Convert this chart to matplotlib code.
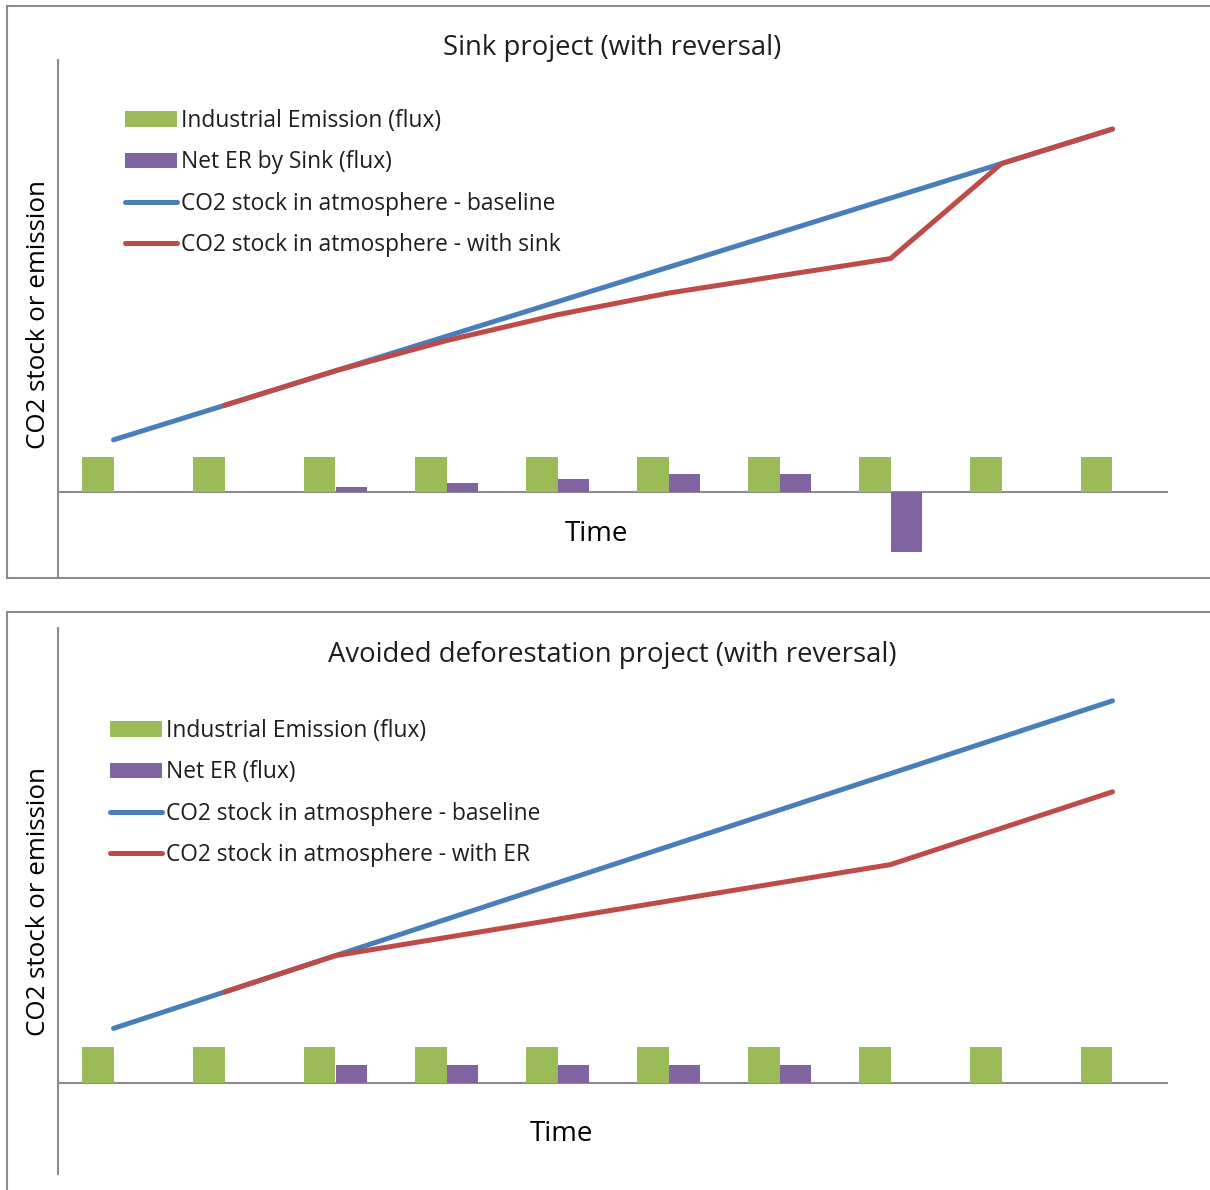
import matplotlib.pyplot as plt
from matplotlib.lines import Line2D
from matplotlib.patches import Patch
import numpy as np

# data (arbitrary units)
periods = np.arange(10)

sink_emission = [2, 2, 2, 2, 2, 2, 2, 2, 2, 2]
sink_net_er = [0, 0, 0.25, 0.5, 0.75, 1, 1, -3.5, 0, 0]
sink_baseline = [3, 5, 7, 9, 11, 13, 15, 17, 19, 21]
sink_with = [np.nan, 5, 7, 8.75, 10.25, 11.5, 12.5, 13.5, 19, 21]

avd_emission = [2, 2, 2, 2, 2, 2, 2, 2, 2, 2]
avd_net_er = [0, 0, 1, 1, 1, 1, 1, 0, 0, 0]
avd_baseline = [3, 5, 7, 9, 11, 13, 15, 17, 19, 21]
avd_with = [np.nan, 5, 7, 8, 9, 10, 11, 12, 14, 16]

GREEN = "#9BBB59"
PURPLE = "#8064A2"
BLUE = "#4A7EBB"
RED = "#BE4B48"
GRAY = "#8C8C8C"
TXT = "#1E1E1E"

W, H = 1210, 1190
plt.rcParams['font.family'] = ['Open Sans', 'DejaVu Sans']

fig = plt.figure(figsize=(W / 100, H / 100), dpi=100)


def fx(px):
    return px / W


def fy(py):
    return 1 - py / H


def frame(x0, y0, x1, y1, sides):
    for s in sides:
        if s == "top":
            xs, ys = [x0, x1], [y0, y0]
        elif s == "bottom":
            xs, ys = [x0, x1], [y1, y1]
        else:
            xs, ys = [x0, x0], [y0, y1]
        fig.add_artist(Line2D([fx(v) for v in xs], [fy(v) for v in ys],
                              color=GRAY, lw=1.5, transform=fig.transFigure))


def panel(top, bottom, emission, net_er, baseline, with_er, title, labels,
          title_y, leg_x, leg_y, time_x, time_y, ylab_y):
    ax = fig.add_axes([fx(58), fy(bottom), fx(1168) - fx(58), (bottom - top) / H])
    bw = 0.28
    ax.bar(periods - bw / 2, emission, bw, color=GREEN, lw=0, zorder=2)
    ax.bar(periods + bw / 2, net_er, bw, color=PURPLE, lw=0, zorder=2)
    ax.plot(periods, baseline, color=BLUE, lw=3.6, solid_capstyle="round", zorder=3)
    ax.plot(periods, with_er, color=RED, lw=3.6, solid_capstyle="round", zorder=4)
    ax.axhline(0, color=GRAY, lw=1.5, zorder=1)
    ax.set_xlim(-0.5, 9.5)
    ax.set_ylim(-5, 25)
    for s in ["top", "right", "bottom"]:
        ax.spines[s].set_visible(False)
    ax.spines["left"].set_color(GRAY)
    ax.spines["left"].set_linewidth(1.5)
    ax.set_xticks([])
    ax.set_yticks([])
    ax.patch.set_alpha(0)

    fig.text(fx(612), fy(title_y), title, ha="center", va="center", fontsize=19.8, color=TXT)
    fig.text(fx(time_x), fy(time_y), "Time", ha="center", va="center", fontsize=20, color="black")
    fig.text(fx(39), fy(ylab_y), "CO2 stock or emission", ha="center", va="center",
             rotation=90, fontsize=18.7, color="black")

    handles = [Patch(facecolor=GREEN), Patch(facecolor=PURPLE),
               Line2D([], [], color=BLUE, lw=3.6, solid_capstyle="round"),
               Line2D([], [], color=RED, lw=3.6, solid_capstyle="round")]
    leg = ax.legend(handles, labels, loc="upper left",
                    bbox_to_anchor=(fx(leg_x), fy(leg_y)), bbox_transform=fig.transFigure,
                    frameon=False, fontsize=16.4, handlelength=2.28, handleheight=0.68,
                    handletextpad=0.2, labelspacing=0.76, borderpad=0, borderaxespad=0)
    for t in leg.get_texts():
        t.set_color(TXT)
    return ax


frame(7, 6, 1210, 578, ["top", "left", "bottom"])
frame(7, 612, 1210, 1190, ["top", "left"])

panel(60, 578, sink_emission, sink_net_er, sink_baseline, sink_with,
      "Sink project (with reversal)",
      ["Industrial Emission (flux)", "Net ER by Sink (flux)",
       "CO2 stock in atmosphere - baseline", "CO2 stock in atmosphere - with sink"],
      title_y=48, leg_x=125, leg_y=109, time_x=596, time_y=534, ylab_y=315)

panel(628, 1174, avd_emission, avd_net_er, avd_baseline, avd_with,
      "Avoided deforestation project (with reversal)",
      ["Industrial Emission (flux)", "Net ER (flux)",
       "CO2 stock in atmosphere - baseline", "CO2 stock in atmosphere - with ER"],
      title_y=655, leg_x=110, leg_y=719, time_x=561, time_y=1134, ylab_y=901)

fig.savefig("out.png", dpi=100, facecolor="white")
